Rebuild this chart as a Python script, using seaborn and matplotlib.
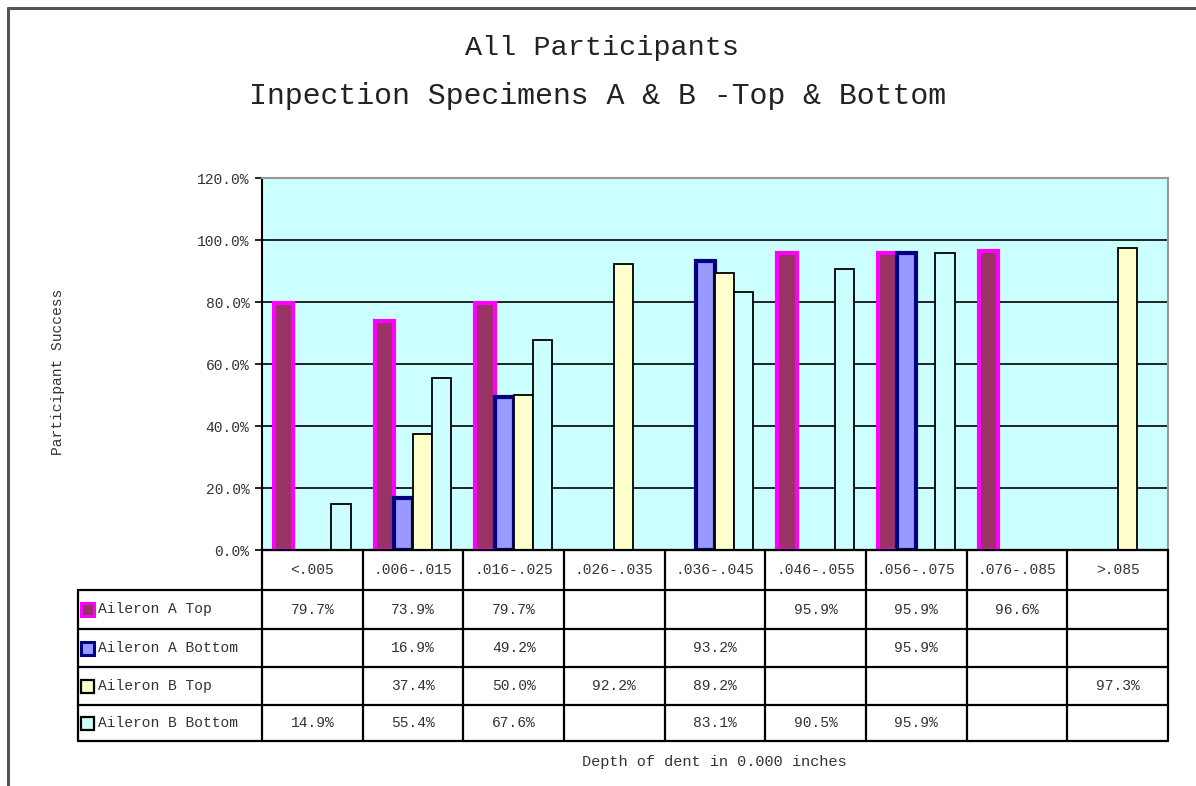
import numpy as np
import pandas as pd
import matplotlib
matplotlib.use("Agg")
import matplotlib.pyplot as plt
from matplotlib.patches import Rectangle
from matplotlib.lines import Line2D
import seaborn as sns

# ---------------- data ----------------
categories = ["<.005", ".006-.015", ".016-.025", ".026-.035", ".036-.045",
              ".046-.055", ".056-.075", ".076-.085", ">.085"]
series_names = ["Aileron A Top", "Aileron A Bottom", "Aileron B Top", "Aileron B Bottom"]
a_top = [79.7, 73.9, 79.7, None, None, 95.9, 95.9, 96.6, None]
a_bottom = [None, 16.9, 49.2, None, 93.2, None, 95.9, None, None]
b_top = [None, 37.4, 50.0, 92.2, 89.2, None, None, None, 97.3]
b_bottom = [14.9, 55.4, 67.6, None, 83.1, 90.5, 95.9, None, None]
y_ticks = [0, 20, 40, 60, 80, 100, 120]
title_lines = ["All Participants", "Inpection Specimens A & B -Top & Bottom"]
y_label = "Participant Success"
x_label = "Depth of dent in 0.000 inches"

# styles
face_colors = ["#993366", "#9999FF", "#FFFFCC", "#CCFFFF"]
edge_colors = ["#FF00FF", "#000080", "#000000", "#000000"]
edge_widths = [3.0, 3.0, 1.3, 1.3]

series_values = [a_top, a_bottom, b_top, b_bottom]
rows = []
for name, vals in zip(series_names, series_values):
    for cat, v in zip(categories, vals):
        rows.append({"Depth": cat, "Series": name,
                     "Value": np.nan if v is None else v})
df = pd.DataFrame(rows)

sns.set_theme(style="white")
FONT = ["Liberation Mono", "DejaVu Sans Mono"]
plt.rcParams["font.family"] = FONT

W, H = 1196, 786
fig = plt.figure(figsize=(W / 100, H / 100), dpi=100)
fig.patch.set_facecolor("white")


def fx(px):
    return px / W


def fy(py):
    return 1 - py / H


# outer chart frame (left + top visible)
fig.add_artist(Line2D([fx(7.5), fx(7.5)], [fy(8), fy(790)], transform=fig.transFigure,
                      color="#555555", lw=2.2))
fig.add_artist(Line2D([fx(7.5), fx(1200)], [fy(8), fy(8)], transform=fig.transFigure,
                      color="#555555", lw=2.2))

# ---------------- plot area ----------------
L, R, T, B = 262, 1168, 178, 550
ax = fig.add_axes([fx(L), fy(B), fx(R) - fx(L), fy(T) - fy(B)])
ax.set_facecolor("#CCFFFF")

palette = dict(zip(series_names, face_colors))
sns.barplot(data=df, x="Depth", y="Value", hue="Series", order=categories,
            hue_order=series_names, palette=palette, width=0.76, dodge=True,
            saturation=1, ax=ax, legend=False, zorder=3)

# style bars per series (containers in hue order)
for cont, ec, lw in zip(ax.containers, edge_colors, edge_widths):
    for bar in cont:
        bar.set_edgecolor(ec)
        bar.set_linewidth(lw)
        bar.set_joinstyle("miter")

ax.set_xlim(-0.5, len(categories) - 0.5)
ax.set_ylim(0, 120)
ax.set_yticks(y_ticks)
ax.set_yticklabels([f"{v:.1f}%" for v in y_ticks], fontsize=10.5, color="#333333")
ax.yaxis.grid(True, color="black", lw=1.2, zorder=1)
ax.set_axisbelow(True)
ax.set_xticks([])
ax.set_xlabel("")
ax.set_ylabel("")
ax.tick_params(axis="y", left=True, length=5, width=1.2, color="black", pad=4)
for side in ["top", "right"]:
    ax.spines[side].set_color("#999999")
    ax.spines[side].set_linewidth(1.5)
ax.spines["left"].set_color("black")
ax.spines["left"].set_linewidth(1.5)
ax.spines["bottom"].set_color("black")
ax.spines["bottom"].set_linewidth(1.5)

# ---------------- titles / labels ----------------
fig.text(fx(602), fy(48), title_lines[0], ha="center", va="center",
         fontsize=20.5, color="#222222")
fig.text(fx(598), fy(96), title_lines[1], ha="center", va="center",
         fontsize=21.5, color="#222222")
fig.text(fx(58), fy(372), y_label, ha="center", va="center", rotation=90,
         fontsize=10.5, color="#333333")
fig.text(fx(714), fy(762), x_label, ha="center", va="center",
         fontsize=11, color="#333333")

# ---------------- data table ----------------
tab = fig.add_axes([0, 0, 1, 1], facecolor="none")
tab.set_xlim(0, W)
tab.set_ylim(H, 0)
tab.axis("off")

row_edges = [550, 590, 629, 667, 705, 741]
leg_left = 78
col_w = (R - L) / len(categories)
col_edges = [L + i * col_w for i in range(len(categories) + 1)]
lw_t = 1.6
# horizontal lines
tab.plot([L, R], [row_edges[0], row_edges[0]], color="black", lw=lw_t)
for yv in row_edges[1:]:
    tab.plot([leg_left, R], [yv, yv], color="black", lw=lw_t)
# vertical lines
tab.plot([leg_left, leg_left], [row_edges[1], row_edges[-1]], color="black", lw=lw_t)
for xv in col_edges:
    tab.plot([xv, xv], [row_edges[0], row_edges[-1]], color="black", lw=lw_t)

# header
for i, cat in enumerate(categories):
    tab.text((col_edges[i] + col_edges[i + 1]) / 2, (row_edges[0] + row_edges[1]) / 2,
             cat, ha="center", va="center", fontsize=10.5, color="#333333")

# rows
for r, (name, vals) in enumerate(zip(series_names, series_values)):
    yc = (row_edges[r + 1] + row_edges[r + 2]) / 2
    sq = 13
    tab.add_patch(Rectangle((81, yc - sq / 2), sq, sq, facecolor=face_colors[r],
                            edgecolor=edge_colors[r] if r < 2 else "black",
                            lw=2.2 if r < 2 else 1.6))
    tab.text(98, yc, name, ha="left", va="center", fontsize=10.5, color="#333333")
    for i, v in enumerate(vals):
        if v is not None:
            tab.text((col_edges[i] + col_edges[i + 1]) / 2, yc, f"{v:.1f}%",
                     ha="center", va="center", fontsize=10.5, color="#333333")

fig.savefig("out.png", dpi=100, facecolor="white")
